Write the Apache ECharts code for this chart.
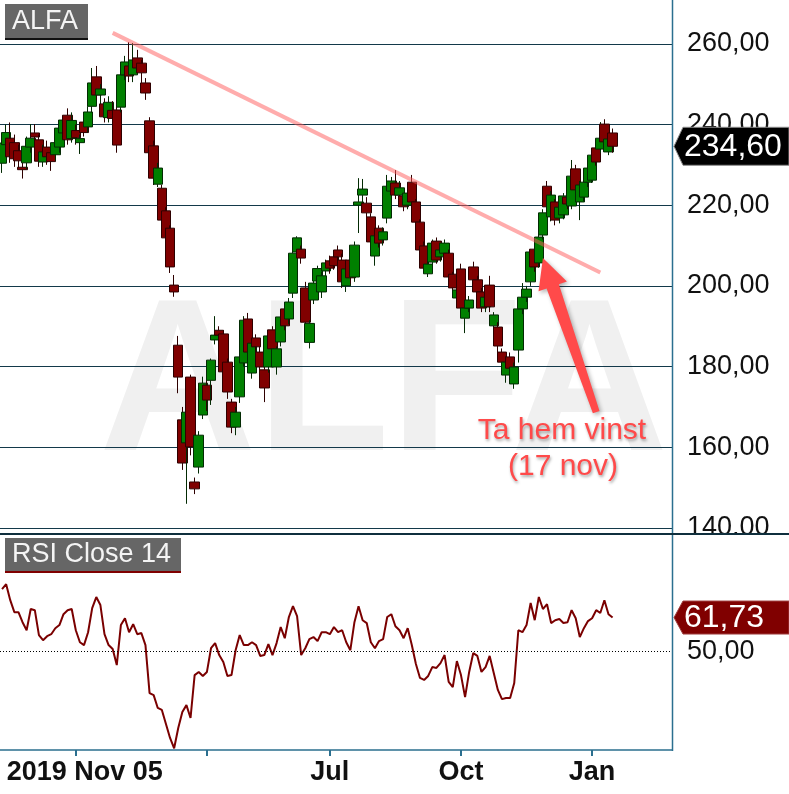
<!DOCTYPE html>
<html><head><meta charset="utf-8">
<script src="https://cdn.jsdelivr.net/npm/echarts@6/dist/echarts.min.js"></script>
<style>html,body{margin:0;padding:0;background:#fff}#c{width:789px;height:794px}</style>
</head><body><div id="c"></div>
<script>
const opens = [230.4,235.0,236.6,235.5,233.5,229.4,230.5,234.4,237.9,236.2,
230.7,234.4,233.0,232.5,234.4,237.9,242.3,236.5,238.5,235.5,
240.6,239.4,244.5,251.8,247.3,245.1,241.7,243.5,243.6,244.3,
252.3,254.5,252.3,256.5,255.2,250.3,240.9,234.7,225.2,224.2,
218.6,214.3,200.2,185.3,166.8,161.1,177.4,151.4,155.1,168.0,
175.4,176.6,186.6,189.0,188.1,181.1,171.2,165.0,172.5,180.9,
191.8,178.4,187.1,183.6,179.2,179.9,189.1,179.9,186.1,194.3,
191.8,198.2,208.4,209.1,199.5,186.0,196.5,201.2,198.5,203.7,
206.2,207.2,208.9,206.4,200.0,206.4,202.2,220.0,222.5,220.5,
217.1,207.4,214.3,211.4,216.8,223.5,225.5,222.5,222.3,220.0,
225.7,220.8,215.8,209.9,203.0,205.9,211.1,207.2,208.1,208.1,
202.9,197.0,204.2,192.0,194.5,204.7,201.5,198.5,194.8,200.2,
190.1,189.8,183.6,177.9,182.4,175.7,184.1,194.3,197.2,201.0,
209.1,205.7,212.6,224.7,217.1,220.8,216.8,217.6,222.0,219.8,
229.0,220.8,222.0,225.7,226.2,234.2,233.9,240.1,233.2,237.9];
const closes = [235.4,238.0,232.0,231.5,231.0,228.8,234.6,236.6,236.9,230.9,
233.2,232.0,230.8,235.5,239.1,241.1,236.2,241.0,236.7,236.5,
238.0,243.1,250.3,247.3,248.8,241.9,245.5,241.5,234.9,252.3,
255.5,252.0,256.0,254.0,252.8,247.8,233.0,226.7,229.2,216.3,
211.9,204.7,198.5,177.4,156.1,168.7,160.1,149.7,163.0,175.9,
171.7,181.6,187.8,187.8,178.7,173.7,165.0,168.7,182.4,191.5,
183.6,185.8,184.9,179.9,174.7,187.6,184.4,184.4,192.3,190.1,
196.0,208.1,211.9,206.9,191.0,190.7,200.7,204.3,202.5,205.7,
204.4,205.0,207.2,201.0,204.2,202.0,210.1,220.8,224.0,218.1,
210.9,212.4,210.6,213.4,224.7,226.0,222.5,224.3,219.6,223.0,
220.8,215.8,208.9,204.4,205.4,210.6,206.4,208.9,210.6,202.2,
199.5,199.0,194.5,194.5,196.5,201.5,198.5,194.5,197.2,194.8,
192.8,185.1,181.1,181.1,179.6,179.9,194.3,197.2,199.2,208.4,
204.7,212.1,218.1,219.6,222.5,216.3,219.5,222.3,220.3,227.2,
223.8,225.0,225.7,229.2,232.4,230.7,236.6,235.7,236.4,234.6];
const lows = [228.0,233.0,230.5,229.5,229.0,226.6,229.0,233.0,235.0,229.5,
229.5,230.0,228.5,231.0,233.0,237.0,235.0,235.5,235.0,232.7,
237.0,238.0,243.0,246.0,245.0,240.5,240.5,240.0,233.0,243.0,
251.0,250.5,250.5,253.0,250.3,246.1,232.0,225.0,224.5,215.5,
210.9,203.2,197.3,173.4,154.4,146.0,158.0,148.4,153.5,167.0,
169.0,170.5,185.5,186.0,177.0,172.0,163.5,163.0,171.0,180.0,
182.0,177.0,183.5,178.5,171.2,178.5,183.5,178.0,185.0,189.0,
190.5,197.0,207.5,205.5,189.0,184.5,195.5,200.0,197.0,202.5,
203.0,204.0,206.0,199.5,198.5,200.5,201.0,213.1,219.5,216.5,
210.0,205.0,209.5,210.0,215.5,222.5,221.5,221.0,218.5,219.0,
220.0,215.0,207.5,203.5,202.2,205.0,205.5,206.0,207.0,201.0,
198.0,196.0,193.5,188.3,193.5,200.5,197.0,193.5,193.5,193.5,
189.0,183.5,180.0,176.0,177.5,174.5,181.0,193.0,196.0,200.0,
203.5,204.5,211.5,218.0,216.0,215.0,215.5,216.5,219.0,219.0,
223.0,216.3,221.0,224.5,225.5,229.8,233.0,234.5,232.4,233.0];
const highs = [237.0,240.0,240.5,237.5,235.0,230.5,237.0,240.1,240.1,237.5,
235.0,236.0,234.5,236.5,240.0,242.0,244.0,243.0,240.0,237.5,
242.5,244.5,254.0,254.5,250.0,246.5,247.0,245.8,244.5,253.0,
257.0,260.4,260.2,258.5,256.0,251.5,241.8,236.0,230.5,225.0,
219.5,215.0,202.7,187.6,170.0,170.5,178.0,152.5,164.0,177.5,
177.0,182.0,192.5,190.0,189.0,182.0,172.0,170.0,183.0,192.5,
193.3,186.5,188.0,185.0,180.0,188.5,190.0,185.0,193.0,195.5,
197.0,209.0,212.3,210.0,201.0,191.5,201.5,205.0,203.5,206.5,
207.5,208.5,210.0,208.0,205.0,207.0,211.0,226.7,226.5,222.0,
218.0,213.0,215.0,214.5,227.5,227.0,228.7,226.0,223.0,224.0,
227.5,221.5,216.5,211.0,206.5,211.5,212.0,209.5,211.5,209.0,
203.5,200.0,205.5,195.5,197.5,206.0,202.5,199.5,198.0,202.5,
193.5,191.0,184.5,182.5,183.5,181.0,195.0,200.7,200.0,209.0,
210.0,213.0,219.0,226.0,223.5,221.5,220.0,223.0,222.5,231.2,
230.0,226.0,226.5,230.0,233.0,235.0,240.6,241.3,237.0,239.0];
const rsi = [71.7,73.4,67.8,63.6,63.6,60.1,57.3,64.7,64.3,55.6,
53.8,55.2,55.9,58.0,59.1,62.9,64.3,64.7,57.3,53.1,
52.1,56.6,65.0,68.9,66.1,55.9,52.1,50.7,45.1,59.1,
61.5,56.6,59.4,55.9,56.3,52.1,35.3,34.6,30.1,29.4,
24.5,19.6,16.0,23.1,28.7,31.1,26.6,41.6,42.7,41.3,
42.7,51.0,52.8,48.6,46.2,41.3,41.6,50.3,55.6,52.1,
52.1,53.1,52.1,48.3,48.6,52.4,48.6,52.8,58.4,54.5,
61.9,65.7,62.2,48.6,51.0,54.2,54.9,53.5,56.6,56.6,
55.9,58.4,56.6,57.3,53.1,50.3,60.1,65.7,60.8,59.8,
53.1,51.0,53.5,54.2,61.9,62.9,58.7,57.3,54.5,58.0,
52.1,45.5,40.6,39.9,41.3,44.4,44.1,45.8,48.6,39.2,
37.4,46.5,41.6,33.9,42.7,49.3,48.3,42.7,44.4,48.3,
42.3,36.4,33.2,33.6,33.6,38.8,57.3,56.6,59.1,66.8,
60.8,68.9,64.7,66.4,59.8,60.8,61.2,59.8,60.1,64.3,
61.5,54.9,58.0,60.5,61.5,64.3,63.3,67.8,62.9,61.73];
const totalSlots = 164;
const tickIndex = [18, 50, 80, 112, 144];
const tickText = ['2019 Nov 05', '', 'Jul', 'Oct', 'Jan'];
const trendStart = [27, 262.7], trendEnd = [146, 203.3];
const arrowTip = [132, 206.9], arrowTail = [145, 168.7];
const rsiLevel = 50;
const titleText = 'ALFA', rsiTitle = 'RSI Close 14';
const note1 = 'Ta hem vinst', note2 = '(17 nov)';

const categories = Array.from({length: totalSlots}, (_, i) => String(i));
const candles = opens.map((o, i) => [o, closes[i], lows[i], highs[i]]);
const fmt = v => v.toFixed(2).replace('.', ',');
const FONT = "'Liberation Sans', Arial, sans-serif";
const TEAL = '#2b6f8f';

const chart = echarts.init(document.getElementById('c'));
chart.setOption({
  animation: false,
  backgroundColor: '#fff',
  grid: [{left: 0, right: 117, top: 0, height: 528}, {left: 0, right: 117, top: 535, height: 215}],
  xAxis: [
    {type: 'category', gridIndex: 0, data: categories, boundaryGap: true, show: false},
    {type: 'category', gridIndex: 1, data: categories, boundaryGap: true,
     axisLine: {lineStyle: {color: TEAL, width: 1.5}},
     axisTick: {show: true, alignWithLabel: true, interval: (i) => tickIndex.includes(i), length: 6, lineStyle: {color: TEAL, width: 2}},
     axisLabel: {interval: (i) => tickIndex.includes(i), margin: 9, fontSize: 27, fontWeight: 'bold', color: '#111', fontFamily: FONT,
       formatter: (v, i) => { const k = tickIndex.indexOf(i); if (k < 0) return ''; return k === 0 ? '{first|' + tickText[k] + '}' : tickText[k]; },
       rich: {first: {padding: [0, 0, 0, 18], fontSize: 27, fontWeight: 'bold', color: '#111', fontFamily: FONT}}},
     splitLine: {show: false}}
  ],
  yAxis: [
    {type: 'value', gridIndex: 0, position: 'right', min: 140, max: 270.85, interval: 20,
     axisLine: {show: false}, axisTick: {show: false},
     splitLine: {show: true, showMaxLine: false, lineStyle: {color: '#13394a', width: 1}},
     axisLabel: {showMaxLabel: false, margin: 15, fontSize: 27, color: '#111', fontFamily: FONT,
       formatter: v => (Math.abs(v % 20) < 1e-6 ? fmt(v) : '')}},
    {type: 'value', gridIndex: 1, position: 'right', min: 15.4, max: 90.6,
     axisLine: {show: false}, axisTick: {show: false}, splitLine: {show: false}, axisLabel: {show: false}}
  ],
  series: [
    {type: 'candlestick', xAxisIndex: 0, yAxisIndex: 0, data: candles, barWidth: 10,
     itemStyle: {color: '#008000', color0: '#800000', borderColor: '#032a03', borderColor0: '#2e0000', borderWidth: 1},
     markLine: {silent: true, symbol: ['none', 'none'], label: {show: false},
       lineStyle: {color: 'rgba(255,90,90,0.5)', width: 4, type: 'solid'},
       data: [[{coord: trendStart}, {coord: trendEnd}]]}},
    {type: 'line', xAxisIndex: 1, yAxisIndex: 1, data: rsi, showSymbol: false, symbol: 'none',
     lineStyle: {color: '#7a0000', width: 2},
     markLine: {silent: true, symbol: ['none', 'none'],
       lineStyle: {color: '#000', width: 1, type: [1, 2]},
       label: {show: true, position: 'end', distance: 15, formatter: fmt(rsiLevel), fontSize: 27, color: '#111', fontFamily: FONT},
       data: [{yAxis: rsiLevel}]}}
  ]
});

const lastClose = closes[closes.length - 1];
const lastRsi = rsi[rsi.length - 1];
const yPrice = chart.convertToPixel({yAxisIndex: 0}, lastClose);
const yRsi = chart.convertToPixel({yAxisIndex: 1}, lastRsi);
const P = chart.convertToPixel({gridIndex: 0}, arrowTip);
const T = chart.convertToPixel({gridIndex: 0}, arrowTail);
const dx = P[0] - T[0], dy = P[1] - T[1], len = Math.hypot(dx, dy);
const ux = dx / len, uy = dy / len, nx = -uy, ny = ux;
const headLen = 30, headHalf = 15, sT = 3.5, sH = 6.5;
const B = [P[0] - ux * headLen, P[1] - uy * headLen];
const arrowPts = [
  [T[0] + nx * sT, T[1] + ny * sT], [B[0] + nx * sH, B[1] + ny * sH], [B[0] + nx * headHalf, B[1] + ny * headHalf],
  [P[0], P[1]],
  [B[0] - nx * headHalf, B[1] - ny * headHalf], [B[0] - nx * sH, B[1] - ny * sH], [T[0] - nx * sT, T[1] - ny * sT]
];
function badge(yc, h, fill, stroke, text) {
  return [
    {type: 'polygon', z: 60, silent: true, shape: {points: [[674, yc], [683, yc - h / 2], [789, yc - h / 2], [789, yc + h / 2], [683, yc + h / 2]]},
     style: {fill: fill, stroke: stroke, lineWidth: 1}},
    {type: 'text', z: 61, silent: true, style: {text: text, x: 684, y: yc + 1, fontSize: 32, fontFamily: FONT, fill: '#fff', align: 'left', verticalAlign: 'middle'}}
  ];
}
const noteStyle = {fontSize: 30, fontFamily: FONT, fill: '#ff4a4a', align: 'center', verticalAlign: 'middle',
  textShadowColor: 'rgba(0,0,0,0.35)', textShadowBlur: 3, textShadowOffsetX: 1, textShadowOffsetY: 2};
chart.setOption({
  graphic: [
    {type: 'text', z: -10, silent: true, style: {text: titleText, x: 99, y: 390, fontSize: 218, fontWeight: 'bold', fontFamily: FONT, fill: '#f0f0f0', align: 'left', verticalAlign: 'middle'}},
    {type: 'rect', z: 40, silent: true, shape: {x: 673, y: 535, width: 116, height: 14}, style: {fill: '#fff'}},
    {type: 'rect', z: 51, silent: true, shape: {x: 0, y: 533, width: 789, height: 2}, style: {fill: '#0f2f3d'}},
    {type: 'line', z: 50, silent: true, shape: {x1: 672.5, y1: 0, x2: 672.5, y2: 751}, style: {stroke: TEAL, lineWidth: 1.5}},
    {type: 'rect', z: 55, silent: true, shape: {x: 5, y: 4, width: 83, height: 34}, style: {fill: '#666'}},
    {type: 'rect', z: 55, silent: true, shape: {x: 5, y: 38, width: 83, height: 2}, style: {fill: '#111'}},
    {type: 'text', z: 56, silent: true, style: {text: titleText, x: 12, y: 22, fontSize: 27, fontFamily: FONT, fill: '#f4f4f4', align: 'left', verticalAlign: 'middle'}},
    {type: 'rect', z: 55, silent: true, shape: {x: 5, y: 538, width: 176, height: 33}, style: {fill: '#666'}},
    {type: 'rect', z: 55, silent: true, shape: {x: 5, y: 571, width: 176, height: 2}, style: {fill: '#800000'}},
    {type: 'text', z: 56, silent: true, style: {text: rsiTitle, x: 12, y: 555, fontSize: 27, fontFamily: FONT, fill: '#f4f4f4', align: 'left', verticalAlign: 'middle'}},
    ...badge(yPrice, 38, '#000', '#8a8a8a', fmt(lastClose)),
    ...badge(yRsi, 33, '#800000', '#a04040', fmt(lastRsi)),
    {type: 'polygon', z: 58, silent: true, shape: {points: arrowPts},
     style: {fill: '#ff4a4a', shadowBlur: 4, shadowColor: 'rgba(0,0,0,0.3)', shadowOffsetX: 2, shadowOffsetY: 2}},
    {type: 'text', z: 58, silent: true, style: Object.assign({text: note1, x: 562, y: 431}, noteStyle)},
    {type: 'text', z: 58, silent: true, style: Object.assign({text: note2, x: 563, y: 467}, noteStyle)}
  ]
});
</script></body></html>
